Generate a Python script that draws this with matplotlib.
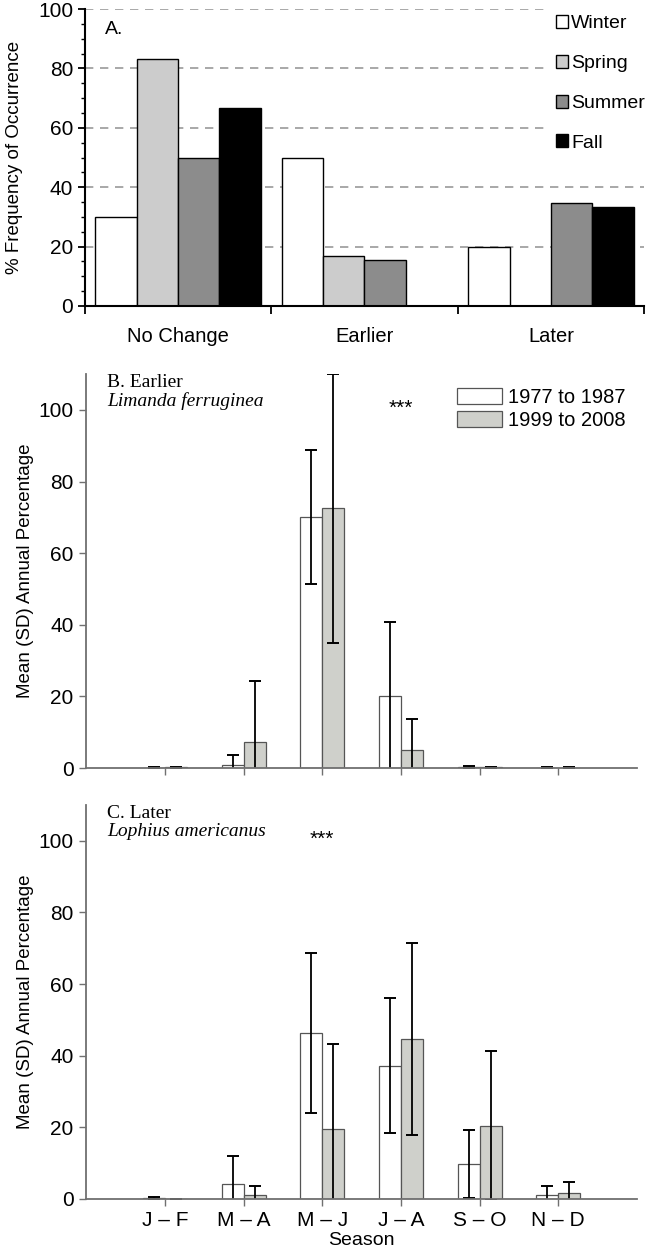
# seasonal timing figure - three panels
import numpy as np
import matplotlib.pyplot as plt
from matplotlib.ticker import MultipleLocator

plt.rcParams['font.family'] = ['Liberation Sans', 'DejaVu Sans']

# Panel A data
change_types = ["No Change", "Earlier", "Later"]
seasons = ["Winter", "Spring", "Summer", "Fall"]
winter = [30.0, 50.0, 20.0]
spring = [83.3, 16.7, 0.0]
summer = [50.0, 15.4, 34.6]
fall = [66.7, 0.0, 33.3]
season_colors = ["white", "#cccccc", "#8c8c8c", "black"]

# Panels B and C data
periods = ["1977 to 1987", "1999 to 2008"]
bimonths = ["J – F", "M – A", "M – J", "J – A", "S – O", "N – D"]
limanda_early = [0.1, 1.0, 70.0, 20.0, 0.3, 0.1]
limanda_early_sd = [0.1, 2.8, 18.7, 20.8, 0.2, 0.1]
limanda_late = [0.2, 7.4, 72.5, 5.0, 0.2, 0.1]
limanda_late_sd = [0.1, 16.8, 37.5, 8.7, 0.1, 0.1]
lophius_early = [0.3, 4.3, 46.3, 37.2, 9.7, 1.2]
lophius_early_sd = [0.3, 7.7, 22.3, 18.9, 9.5, 2.4]
lophius_late = [0.05, 1.2, 19.6, 44.6, 20.5, 1.7]
lophius_late_sd = [0.0, 2.4, 23.6, 26.8, 20.7, 3.0]

fig = plt.figure(figsize=(6.48, 12.51), dpi=100)

# ---- Panel A
axA = fig.add_axes([0.131, 0.7554, 0.863, 0.2374])
x = np.arange(len(change_types))
w = 0.222
for i, (vals, name) in enumerate(zip([winter, spring, summer, fall], seasons)):
    axA.bar(x + (i - 1.5) * w, vals, w, color=season_colors[i],
            edgecolor="black", linewidth=1.0, label=name, zorder=2)
axA.set_xlim(-0.5, 2.5)
axA.set_ylim(0, 100)
axA.set_yticks(range(0, 101, 20))
axA.yaxis.set_minor_locator(MultipleLocator(5))
axA.yaxis.grid(True, linestyle=(0, (5, 4)), color="#999999", linewidth=1.2)
axA.set_axisbelow(True)
for s in ["top", "right"]:
    axA.spines[s].set_visible(False)
for s in ["left", "bottom"]:
    axA.spines[s].set_linewidth(1.5)
axA.set_xticks([-0.5, 0.5, 1.5, 2.5])
axA.set_xticklabels([])
axA.set_xticks(x, minor=True)
axA.set_xticklabels(change_types, minor=True, fontsize=14.5)
axA.tick_params(axis="x", which="minor", length=0, pad=15)
axA.tick_params(axis="x", which="major", length=6, width=1.3, direction="out")
axA.tick_params(axis="y", which="major", length=5, width=1.3, labelsize=15)
axA.tick_params(axis="y", which="minor", length=3, width=1.0)
axA.set_ylabel("% Frequency of Occurrence", fontsize=13.5, labelpad=11)
axA.text(0.036, 0.93, "A.", transform=axA.transAxes, fontsize=14, va="center")
leg = axA.legend(loc="upper right", bbox_to_anchor=(1.012, 1.0), fontsize=14,
                 handlelength=0.65, handleheight=0.65, handletextpad=0.15,
                 labelspacing=1.16, borderpad=0.3, borderaxespad=0.0,
                 fancybox=False, framealpha=1.0)
leg.get_frame().set_edgecolor("none")


def season_panel(ax, early, early_sd, late, late_sd, title, species, star_x, show_labels):
    xs = np.arange(1, 7)
    bw = 0.28
    ax.bar(xs - bw / 2, early, bw, color="white", edgecolor="#555555",
           linewidth=0.9, label=periods[0])
    ax.bar(xs + bw / 2, late, bw, color="#cfd0cb", edgecolor="#555555",
           linewidth=0.9, label=periods[1])
    ax.errorbar(xs - bw / 2, early, yerr=early_sd, fmt="none", ecolor="black",
                elinewidth=1.3, capsize=4, capthick=1.4)
    ax.errorbar(xs + bw / 2, late, yerr=late_sd, fmt="none", ecolor="black",
                elinewidth=1.3, capsize=4, capthick=1.4)
    ax.set_xlim(0, 7)
    ax.set_ylim(0, 110)
    ax.set_yticks(range(0, 101, 20))
    ax.set_xticks(xs)
    if show_labels:
        ax.set_xticklabels(bimonths, fontsize=14.5)
    else:
        ax.set_xticklabels([])
    for s in ["top", "right"]:
        ax.spines[s].set_visible(False)
    for s in ["left", "bottom"]:
        ax.spines[s].set_color("#707070")
        ax.spines[s].set_linewidth(1.3)
    ax.tick_params(length=5, width=1.0, color="#707070", labelsize=15, pad=4)
    ax.set_ylabel("Mean (SD) Annual Percentage", fontsize=13.5, labelpad=3)
    ax.text(0.038, 0.978, title, transform=ax.transAxes, fontsize=14,
            family=["Liberation Serif", "DejaVu Serif"], va="center")
    ax.text(0.038, 0.932, species, transform=ax.transAxes, fontsize=14,
            family=["Liberation Serif", "DejaVu Serif"], style="italic", va="center")
    ax.text(star_x, 100.5, "***", ha="center", va="center", fontsize=15)


axB = fig.add_axes([0.133, 0.386, 0.85, 0.315])
season_panel(axB, limanda_early, limanda_early_sd, limanda_late, limanda_late_sd,
             "B. Earlier", "Limanda ferruginea", 4, False)
axB.legend(loc="upper right", bbox_to_anchor=(0.98, 0.965), fontsize=14.5,
           frameon=False, handlelength=2.25, handleheight=0.85,
           handletextpad=0.3, labelspacing=0.2, borderpad=0.0, borderaxespad=0.0)

axC = fig.add_axes([0.133, 0.0416, 0.85, 0.315])
season_panel(axC, lophius_early, lophius_early_sd, lophius_late, lophius_late_sd,
             "C. Later", "Lophius americanus", 3, True)
axC.set_xlabel("Season", fontsize=14, labelpad=1)

fig.savefig("out.png", dpi=100)
